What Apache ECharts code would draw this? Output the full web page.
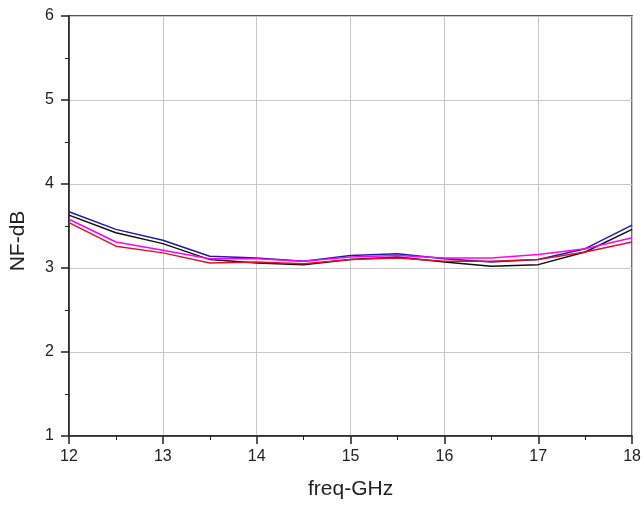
<!DOCTYPE html>
<html>
<head>
<meta charset="utf-8">
<script src="https://cdn.jsdelivr.net/npm/echarts@6/dist/echarts.min.js"></script>
<style>
html,body{margin:0;padding:0;background:#fff;}
#chart{width:644px;height:506px;}
</style>
</head>
<body>
<div id="chart"></div>
<script>
// Frequency sweep (GHz) and noise figure (dB) for four traces
const freq = [12, 12.5, 13, 13.5, 14, 14.5, 15, 15.5, 16, 16.5, 17, 17.5, 18];
const nfBlue    = [3.67, 3.46, 3.33, 3.14, 3.12, 3.08, 3.15, 3.17, 3.11, 3.07, 3.10, 3.23, 3.51];
const nfBlack   = [3.63, 3.42, 3.29, 3.10, 3.06, 3.04, 3.10, 3.13, 3.07, 3.02, 3.04, 3.19, 3.46];
const nfMagenta = [3.58, 3.31, 3.21, 3.11, 3.11, 3.08, 3.13, 3.15, 3.12, 3.12, 3.16, 3.23, 3.36];
const nfRed     = [3.54, 3.26, 3.18, 3.06, 3.07, 3.05, 3.10, 3.12, 3.08, 3.08, 3.10, 3.19, 3.31];

const toPairs = arr => freq.map((f, i) => [f, arr[i]]);

const font = 'Liberation Sans, Arial, sans-serif';
const chart = echarts.init(document.getElementById('chart'));

function line(name, data, color) {
  return {
    name: name, type: 'line', data: toPairs(data),
    showSymbol: false, symbol: 'none',
    lineStyle: { color: color, width: 1.5 },
    itemStyle: { color: color },
    animation: false
  };
}

chart.setOption({
  backgroundColor: '#fff',
  animation: false,
  grid: {
    left: 68, right: 11, top: 16, bottom: 70,
    show: true, borderColor: '#222', borderWidth: 1.5
  },
  xAxis: {
    type: 'value', min: 12, max: 18, interval: 1,
    name: 'freq-GHz', nameLocation: 'middle', nameGap: 43,
    nameTextStyle: { fontFamily: font, fontSize: 21, color: '#222' },
    axisLine: { lineStyle: { color: '#222', width: 1.5 } },
    axisTick: { show: true, length: 8, lineStyle: { color: '#222', width: 1.5 } },
    minorTick: { show: true, splitNumber: 2, length: 4, lineStyle: { color: '#222', width: 1 } },
    axisLabel: { fontFamily: font, fontSize: 16, color: '#222', margin: 13 },
    splitLine: { show: true, lineStyle: { color: '#c8c8c8', width: 1 } }
  },
  yAxis: {
    type: 'value', min: 1, max: 6, interval: 1,
    name: 'NF-dB', nameLocation: 'middle', nameGap: 40,
    nameTextStyle: { fontFamily: font, fontSize: 21, color: '#222', padding: [0, 30, 0, 0] },
    axisLine: { show: true, lineStyle: { color: '#222', width: 1.5 } },
    axisTick: { show: true, length: 8, lineStyle: { color: '#222', width: 1.5 } },
    minorTick: { show: true, splitNumber: 2, length: 4, lineStyle: { color: '#222', width: 1 } },
    axisLabel: { fontFamily: font, fontSize: 16, color: '#222', margin: 15 },
    splitLine: { show: true, lineStyle: { color: '#c8c8c8', width: 1 } }
  },
  series: [
    line('blue', nfBlue, '#1c1ca8'),
    line('black', nfBlack, '#111111'),
    line('magenta', nfMagenta, '#ff00ff'),
    line('red', nfRed, '#e0102a')
  ]
});
</script>
</body>
</html>
